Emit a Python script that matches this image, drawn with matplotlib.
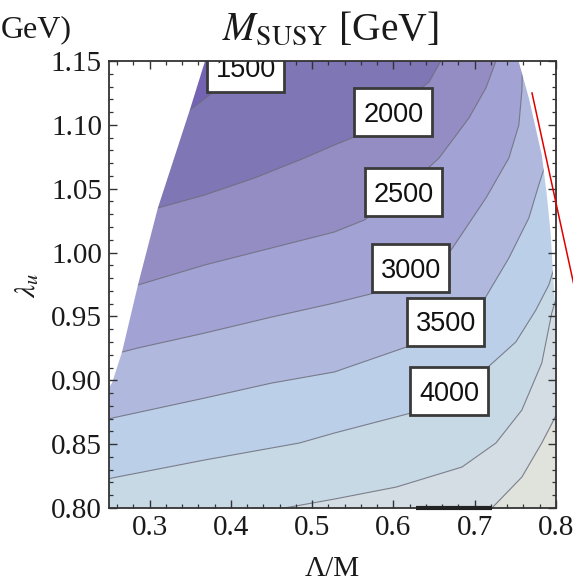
import matplotlib
matplotlib.use("Agg")
import matplotlib.pyplot as plt
from matplotlib.lines import Line2D
from matplotlib.path import Path
from matplotlib.ticker import MultipleLocator, FormatStrFormatter

plt.rcParams['mathtext.fontset'] = 'stix'
plt.rcParams['font.family'] = ['Liberation Serif', 'DejaVu Serif']

# Contour levels of M_SUSY [GeV] and the fill colour of each band
levels = [1500, 2000, 2500, 3000, 3500, 4000, 4500, 5000]
band_colors = ['#7462b3', '#7e76b5', '#948dc4', '#a2a3d4', '#b0b8de',
               '#bbcfe9', '#c8d9e6', '#d3dde3', '#e0e2dc']

# Contour lines (Lambda/M, lambda_u), ordered in Lambda/M
msusy_1500 = [(0.3126, 1.0881), (0.3494, 1.1116), (0.3739, 1.1234),
              (0.4107, 1.1430), (0.4291, 1.1586)]
msusy_2000 = [(0.2758, 1.0294), (0.3101, 1.0349), (0.3678, 1.0451),
              (0.4291, 1.0584), (0.4905, 1.0740), (0.5273, 1.0842),
              (0.5580, 1.0921), (0.6009, 1.1116), (0.6439, 1.1336),
              (0.6623, 1.1547)]
msusy_2500 = [(0.2635, 0.9707), (0.2856, 0.9746), (0.3678, 0.9903),
              (0.4500, 1.0036), (0.5273, 1.0161), (0.5641, 1.0255),
              (0.6132, 1.0490), (0.6561, 1.0740), (0.6929, 1.1054),
              (0.7138, 1.1289), (0.7261, 1.1500), (0.7298, 1.1586)]
msusy_3000 = [(0.2451, 0.9198), (0.2660, 0.9221), (0.2856, 0.9253),
              (0.3678, 0.9370), (0.4500, 0.9495), (0.5273, 0.9605),
              (0.5764, 0.9683), (0.6255, 0.9848), (0.6709, 1.0020),
              (0.7138, 1.0427), (0.7420, 1.0740), (0.7543, 1.0999),
              (0.7580, 1.1265), (0.7592, 1.1586)]
msusy_3500 = [(0.2451, 0.8689), (0.2537, 0.8704), (0.3678, 0.8861),
              (0.4500, 0.8978), (0.5273, 0.9065), (0.6157, 0.9260),
              (0.6623, 0.9441), (0.7113, 0.9628), (0.7420, 0.9957),
              (0.7666, 1.0271), (0.7788, 1.0529), (0.7887, 1.0725),
              (0.7985, 1.0921)]
msusy_4000 = [(0.2451, 0.8219), (0.2537, 0.8235), (0.3678, 0.8376),
              (0.4844, 0.8509), (0.5273, 0.8587), (0.6218, 0.8744),
              (0.6684, 0.8908), (0.7150, 0.9096), (0.7506, 0.9300),
              (0.7752, 0.9550), (0.7911, 0.9746), (0.8009, 0.9942)]
msusy_4500 = [(0.4107, 0.7945), (0.4660, 0.8000), (0.5273, 0.8070),
              (0.6034, 0.8164), (0.6844, 0.8321), (0.7261, 0.8509),
              (0.7580, 0.8767), (0.7825, 0.9135), (0.7948, 0.9527),
              (0.8034, 0.9707)]
msusy_5000 = [(0.7052, 0.7906), (0.7212, 0.8000), (0.7580, 0.8242),
              (0.7825, 0.8509), (0.7972, 0.8689), (0.8058, 0.8806)]
contour_lines = [msusy_1500, msusy_2000, msusy_2500, msusy_3000,
                 msusy_3500, msusy_4000, msusy_4500, msusy_5000]

# Edges of the region without a solution (left and right)
left_edge = [(0.3727, 1.1664), (0.3678, 1.1492), (0.3494, 1.1116),
             (0.3101, 1.0349), (0.2856, 0.9746), (0.2660, 0.9221),
             (0.2537, 0.8978), (0.2390, 0.8845)]
right_edge = [(0.7506, 1.1664), (0.7543, 1.1492), (0.7666, 1.1210),
              (0.7825, 1.0764), (0.7887, 1.0451), (0.7936, 1.0137),
              (0.7960, 0.9863), (0.7985, 0.9628), (0.8034, 0.9534)]

# Contour labels
label_levels = [1500, 2000, 2500, 3000, 3500, 4000]
label_x = [0.418, 0.5997, 0.6126, 0.6212, 0.6641, 0.6684]
label_y = [1.1426, 1.1077, 1.0451, 0.9856, 0.9437, 0.8893]

# Boundary segment along the lower edge
floor_x = [0.628, 0.721]
floor_y = [0.80, 0.80]

xmin, xmax, ymin, ymax = 0.25, 0.80, 0.80, 1.15
far_left, far_top, far_right = 0.15, 1.30, 0.90


def label_box(x0, y0, width, height, mutation_size):
    """Fixed-size rectangle centred on the digits of a contour label."""
    cx = x0 + width / 2
    cy = y0 + height / 2 + 0.10 * mutation_size
    hw, hh = 1.43 * mutation_size, 0.88 * mutation_size
    return Path([(cx - hw, cy - hh), (cx + hw, cy - hh), (cx + hw, cy + hh),
                 (cx - hw, cy + hh), (cx - hw, cy - hh)], closed=True)


W, H = 573, 584
fig = plt.figure(figsize=(W / 100, H / 100), dpi=100)
ax = fig.add_axes([109 / W, 1 - 508 / H, 447 / W, 447 / H])
ax.set_xlim(xmin, xmax)
ax.set_ylim(ymin, ymax)
ax.set_facecolor(band_colors[-1])

# Filled bands: region below each level, drawn from the highest level down
for k in range(len(levels) - 1, -1, -1):
    pts = contour_lines[k]
    xs = [p[0] for p in pts]
    ys = [p[1] for p in pts]
    poly_x = xs + [xs[-1], far_left, far_left]
    poly_y = ys + [far_top, far_top, ys[0]]
    ax.fill(poly_x, poly_y, color=band_colors[k], lw=0,
            zorder=0.5 + 0.01 * (len(levels) - k))

# Contour lines
for pts in contour_lines:
    ax.plot([p[0] for p in pts], [p[1] for p in pts], color='#6e6e7c',
            lw=0.8, alpha=0.85, zorder=1.0)

# Excluded regions
lx = [p[0] for p in left_edge] + [far_left, far_left]
ly = [p[1] for p in left_edge] + [left_edge[-1][1], far_top]
ax.fill(lx, ly, color='white', lw=0, zorder=1.1)
rx = [p[0] for p in right_edge] + [far_right, far_right]
ry = [p[1] for p in right_edge] + [right_edge[-1][1], far_top]
ax.fill(rx, ry, color='white', lw=0, zorder=1.1)

ax.plot(floor_x, floor_y, color='#222222', lw=3.0, solid_capstyle='butt',
        clip_on=False, zorder=2.6)

# Labels on the contours
for lev, lx_, ly_ in zip(label_levels, label_x, label_y):
    ax.text(lx_, ly_, str(lev), ha='center', va='center', fontsize=19.5,
            family=['Liberation Sans', 'DejaVu Sans'], color='#111111',
            bbox=dict(boxstyle=label_box, fc='white', ec='#3a3a3a', lw=2.0),
            zorder=2.0, clip_on=True)

# Frame and ticks
for sp in ax.spines.values():
    sp.set_color('#333333')
    sp.set_linewidth(1.3)
ax.xaxis.set_major_locator(MultipleLocator(0.1))
ax.xaxis.set_minor_locator(MultipleLocator(0.02))
ax.yaxis.set_major_locator(MultipleLocator(0.05))
ax.yaxis.set_minor_locator(MultipleLocator(0.01))
ax.xaxis.set_major_formatter(FormatStrFormatter('%.1f'))
ax.yaxis.set_major_formatter(FormatStrFormatter('%.2f'))
ax.tick_params(which='both', direction='in', top=True, right=True,
               color='#333333', labelsize=21, labelcolor='#1a1a1a')
ax.tick_params(which='major', length=5.5, width=1.0, pad=5)
ax.tick_params(which='minor', length=3.2, width=0.9)

ax.set_xlabel('Λ/M', fontsize=21, color='#1a1a1a')
ax.xaxis.label.set_va('baseline')
ax.xaxis.set_label_coords(0.5, -(576 - 508) / 447)
ax.set_ylabel(r'$\lambda_u$', fontsize=21, color='#1a1a1a')
ax.yaxis.label.set_va('center')
ax.yaxis.set_label_coords((27 - 109) / 447, (508 - 285) / 447)

fig.text(330 / W, 1 - 40 / H, r'$M_{\mathrm{SUSY}}$ [GeV]', ha='center',
         va='baseline', fontsize=28.5, color='#1a1a1a')
fig.text(1 / W, 1 - 37 / H, 'GeV)', ha='left', va='baseline',
         fontsize=23, color='#1a1a1a')

# Marker line from the neighbouring panel
fig.add_artist(Line2D([532 / W, 575 / W], [1 - 93 / H, 1 - 290 / H],
                      color='#e00000', lw=1.1))

fig.savefig('out.png', dpi=100)
